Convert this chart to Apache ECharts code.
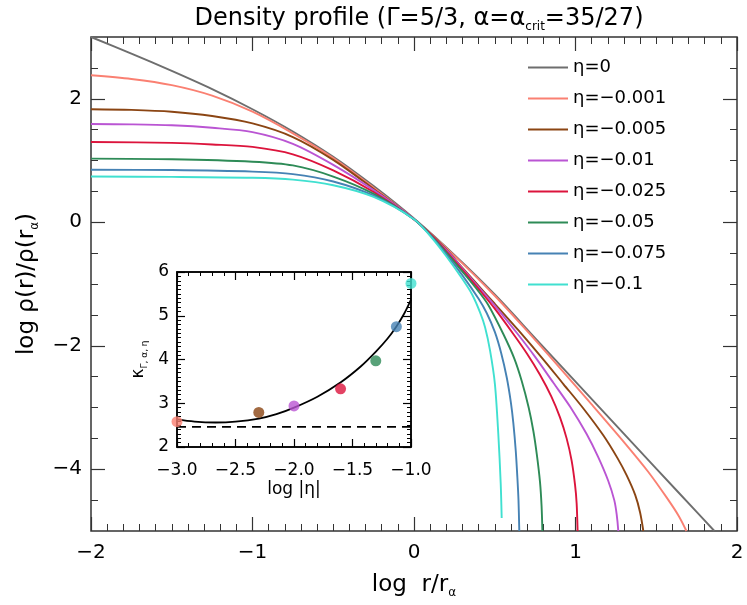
<!DOCTYPE html>
<html><head><meta charset="utf-8">
<script src="https://cdn.jsdelivr.net/npm/echarts@6/dist/echarts.min.js"></script>
<style>html,body{margin:0;padding:0;background:#fff}#c{width:747px;height:605px}</style>
</head><body><div id="c"></div>
<script>
// ---- data ----
const etaNames = ['η=0','η=−0.001','η=−0.005','η=−0.01','η=−0.025','η=−0.05','η=−0.075','η=−0.1'];
const etaColors = ['#6e6e6e','#fa8072','#8b4513','#ba55d3','#dc143c','#2e8b57','#4682b4','#40e0d0'];
const eta0    = [[-2,3.00],[-1.75,2.73],[-1.5,2.45],[-1.25,2.155],[-1,1.83],[-0.75,1.47],[-0.5,1.06],[-0.25,0.585],[0,0.06],[0.25,-0.53],[0.5,-1.17],[0.75,-1.875],[1.0,-2.58],[1.25,-3.285],[1.5,-3.99],[1.75,-4.69],[1.86,-5.0]];
const eta0001 = [[-2,2.38],[-1.75,2.32],[-1.5,2.22],[-1.25,2.05],[-1,1.79],[-0.75,1.44],[-0.5,1.04],[-0.25,0.56],[0,0.05],[0.25,-0.54],[0.5,-1.19],[0.7,-1.76],[0.9,-2.35],[1.1,-2.95],[1.3,-3.56],[1.45,-4.04],[1.565,-4.46],[1.64,-4.76],[1.687,-5.0]];
const eta0005 = [[-2,1.83],[-1.75,1.82],[-1.5,1.79],[-1.25,1.72],[-1,1.60],[-0.75,1.38],[-0.5,1.01],[-0.25,0.54],[0,0.05],[0.2,-0.44],[0.3,-0.74],[0.4,-1.03],[0.5,-1.32],[0.65,-1.76],[0.8,-2.22],[0.925,-2.62],[1.05,-3.02],[1.172,-3.45],[1.26,-3.82],[1.317,-4.1],[1.37,-4.42],[1.40,-4.7],[1.42,-5.0]];
const eta001  = [[-2,1.59],[-1.75,1.585],[-1.5,1.57],[-1.25,1.53],[-1,1.46],[-0.75,1.27],[-0.5,0.93],[-0.25,0.52],[0,0.05],[0.2,-0.45],[0.3,-0.75],[0.4,-1.05],[0.5,-1.35],[0.636,-1.79],[0.75,-2.18],[0.863,-2.6],[0.97,-3.0],[1.069,-3.43],[1.14,-3.8],[1.203,-4.19],[1.24,-4.5],[1.255,-4.73],[1.265,-5.0]];
const eta0025 = [[-2,1.30],[-1.5,1.285],[-1.25,1.26],[-1,1.22],[-0.75,1.10],[-0.5,0.84],[-0.25,0.49],[0,0.05],[0.1,-0.19],[0.2,-0.47],[0.3,-0.77],[0.4,-1.08],[0.5,-1.40],[0.615,-1.81],[0.7,-2.13],[0.78,-2.47],[0.85,-2.82],[0.904,-3.16],[0.945,-3.5],[0.976,-3.86],[0.997,-4.25],[1.007,-4.55],[1.013,-5.0]];
const eta005  = [[-2,1.03],[-1.5,1.02],[-1,0.98],[-0.75,0.92],[-0.5,0.74],[-0.25,0.46],[0,0.05],[0.1,-0.20],[0.2,-0.49],[0.3,-0.80],[0.4,-1.12],[0.46,-1.34],[0.553,-1.81],[0.62,-2.2],[0.667,-2.57],[0.71,-3.0],[0.739,-3.38],[0.76,-3.75],[0.78,-4.2],[0.79,-4.6],[0.795,-5.0]];
const eta0075 = [[-2,0.85],[-1.5,0.845],[-1,0.82],[-0.75,0.78],[-0.5,0.66],[-0.25,0.43],[0,0.05],[0.1,-0.21],[0.2,-0.52],[0.3,-0.86],[0.4,-1.24],[0.45,-1.47],[0.501,-1.78],[0.54,-2.12],[0.574,-2.51],[0.60,-2.92],[0.615,-3.25],[0.63,-3.7],[0.64,-4.13],[0.647,-4.5],[0.652,-5.0]];
const eta01   = [[-2,0.74],[-1.5,0.735],[-1,0.72],[-0.75,0.69],[-0.5,0.60],[-0.25,0.41],[0,0.05],[0.1,-0.22],[0.2,-0.55],[0.3,-0.92],[0.36,-1.17],[0.409,-1.46],[0.44,-1.70],[0.471,-2.08],[0.501,-2.62],[0.522,-3.43],[0.537,-4.24],[0.543,-4.79]];
const profiles = [eta0, eta0001, eta0005, eta001, eta0025, eta005, eta0075, eta01];

const kapX = [-3.0, -2.301, -2.0, -1.602, -1.301, -1.125, -1.0];
const kapY = [2.58, 2.79, 2.94, 3.33, 3.97, 4.75, 5.74];
const kapColors = ['#fa8072','#8b4513','#ba55d3','#dc143c','#2e8b57','#4682b4','#40e0d0'];
const kapFit = [[-3.0,2.63],[-2.85,2.58],[-2.67,2.56],[-2.5,2.58],[-2.3,2.65],[-2.15,2.75],[-2.0,2.90],[-1.8,3.15],[-1.6,3.48],[-1.43,3.84],[-1.3,4.18],[-1.2,4.48],[-1.126,4.75],[-1.06,5.04],[-1.0,5.37]];
const kapLimit = 2.46;

const mainYMajor = [-4,-2,0,2];
const mainYMinor = [-4.5,-3.5,-3,-2.5,-1.5,-1,-0.5,0.5,1,1.5,2.5];

// ---- chart ----
const FF = 'DejaVu Sans';
const minus = v => String(v).replace('-', '−');
const axCol = '#333';
const chart = echarts.init(document.getElementById('c'), null, {renderer:'canvas'});

const lineHidden = {show:false, onZero:false};

function xAx(gi, pos, min, max, interval, split, labels, fs, tl, ml, fmt, line, col, name, margin) {
  return {
    type:'value', gridIndex:gi, position:pos, min, max, interval,
    axisLine:line,
    axisTick:{show:true, inside:true, length:tl, lineStyle:{color:col, width:1.2}},
    minorTick:{show:true, splitNumber:split, length:ml, lineStyle:{color:col, width:1}},
    splitLine:{show:false}, minorSplitLine:{show:false},
    axisLabel:{show:labels, color:'#000', fontFamily:FF, fontSize:fs, margin:margin||12, formatter:fmt, showMinLabel:true, showMaxLabel:true},
    name: name ? name.text : '', nameLocation:'middle', nameGap: name ? name.gap : 0,
    nameTextStyle: name ? name.style : {}
  };
}
function yTicks(gi, pos, vals, len) {
  return {type:'value', gridIndex:gi, position:pos, min:-5, max:3,
    axisLine:lineHidden, axisLabel:{show:false}, splitLine:{show:false},
    axisTick:{show:true, inside:true, length:len, customValues:vals, lineStyle:{color:axCol, width:len>10?1.2:1}}};
}

const series = [];
profiles.forEach((p,i)=>{
  series.push({type:'line', name:etaNames[i], xAxisIndex:0, yAxisIndex:0, data:p, smooth:0.3,
    symbol:'none', lineStyle:{color:etaColors[i], width:1.9}, itemStyle:{color:etaColors[i]}, z:3});
});
series.push({type:'line', xAxisIndex:2, yAxisIndex:4, data:kapFit, smooth:0.35, symbol:'none',
  lineStyle:{color:'#000', width:1.8}, z:5});
series.push({type:'line', xAxisIndex:2, yAxisIndex:4, data:[[-3,kapLimit],[-1,kapLimit]], symbol:'none',
  lineStyle:{color:'#000', width:1.8, type:[9,6]}, z:5});
series.push({type:'scatter', xAxisIndex:2, yAxisIndex:4, symbolSize:11,
  data:kapX.map((x,i)=>({value:[x,kapY[i]], itemStyle:{color:kapColors[i]}})), z:6, clip:false});

const subRich = {fontSize:12, fontFamily:FF, verticalAlign:'bottom', lineHeight:14, color:'#000'};
const insetLine = {show:true, lineStyle:{color:'#000', width:1.5}};

chart.setOption({
  animation:false,
  backgroundColor:'#fff',
  title:{text:'Density profile (Γ=5/3, α=α{s|crit}=35/27)', left:414, textAlign:'center', top:0,
    textStyle:{fontFamily:FF, fontSize:24, fontWeight:'normal', color:'#000', lineHeight:28, rich:{s:subRich}}},
  legend:{orient:'vertical', left:528, top:58, padding:0, itemWidth:40, itemHeight:2, itemGap:12, itemTextGap:9,
    icon:'path://M0,0 L40,0 L40,2 L0,2 Z',
    data:etaNames, textStyle:{fontFamily:FF, fontSize:18, color:'#000', lineHeight:19}, selectedMode:false},
  grid:[
    {left:91, top:37, width:646, height:494, show:true, borderColor:axCol, borderWidth:1.5, backgroundColor:'transparent'},
    {left:177, top:272, width:234, height:175, show:true, backgroundColor:'#fff', borderColor:'#000', borderWidth:1.5, z:4}
  ],
  xAxis:[
    xAx(0,'bottom',-2,2,1,10,true,20,14,7,minus,lineHidden,axCol,{text:'log  r/r{s|α}', gap:40,
      style:{fontFamily:FF, fontSize:23, color:'#000', lineHeight:28, rich:{s:subRich}}}),
    xAx(0,'top',-2,2,1,10,false,20,14,7,minus,lineHidden,axCol),
    Object.assign(xAx(1,'bottom',-3,-1,0.5,5,true,17,8,4,v=>v.toFixed(1).replace('-','−'),insetLine,'#000',{text:'log |η|', gap:34,
      style:{fontFamily:FF, fontSize:17, color:'#000'}},15),{z:6}),
    Object.assign(xAx(1,'top',-3,-1,0.5,5,false,17,8,4,minus,insetLine,'#000'),{z:6})
  ],
  yAxis:[
    {type:'value', gridIndex:0, position:'left', min:-5, max:3,
      axisLine:lineHidden,
      axisTick:{show:true, inside:true, length:14, customValues:mainYMajor, lineStyle:{color:axCol, width:1.2}},
      axisLabel:{show:true, customValues:mainYMajor, color:'#000', fontFamily:FF, fontSize:20, margin:9, formatter:minus},
      splitLine:{show:false},
      name:'log ρ(r)/ρ(r{s|α})', nameLocation:'middle', nameRotate:90, nameGap:50,
      nameTextStyle:{fontFamily:FF, fontSize:23, color:'#000', lineHeight:28, rich:{s:subRich}}},
    yTicks(0,'left',mainYMinor,7),
    yTicks(0,'right',mainYMajor,14),
    yTicks(0,'right',mainYMinor,7),
    {type:'value', gridIndex:1, position:'left', min:2, max:6, interval:1, z:6,
      axisLine:insetLine,
      axisTick:{show:true, inside:true, length:8, lineStyle:{color:'#000', width:1.2}},
      minorTick:{show:true, splitNumber:10, length:4, lineStyle:{color:'#000', width:1}},
      splitLine:{show:false}, minorSplitLine:{show:false},
      axisLabel:{show:true, color:'#000', fontFamily:FF, fontSize:17, margin:8},
      name:'κ{s|Γ, α, η}', nameLocation:'middle', nameRotate:90, nameGap:28,
      nameTextStyle:{fontFamily:FF, fontSize:17, color:'#000', lineHeight:20, rich:{s:{fontSize:9, fontFamily:FF, verticalAlign:'bottom', lineHeight:12}}}},
    {type:'value', gridIndex:1, position:'right', min:2, max:6, interval:1, z:6,
      axisLine:insetLine,
      axisTick:{show:true, inside:true, length:8, lineStyle:{color:'#000', width:1.2}},
      minorTick:{show:true, splitNumber:10, length:4, lineStyle:{color:'#000', width:1}},
      splitLine:{show:false}, minorSplitLine:{show:false}, axisLabel:{show:false}}
  ],
  series
});
</script></body></html>
